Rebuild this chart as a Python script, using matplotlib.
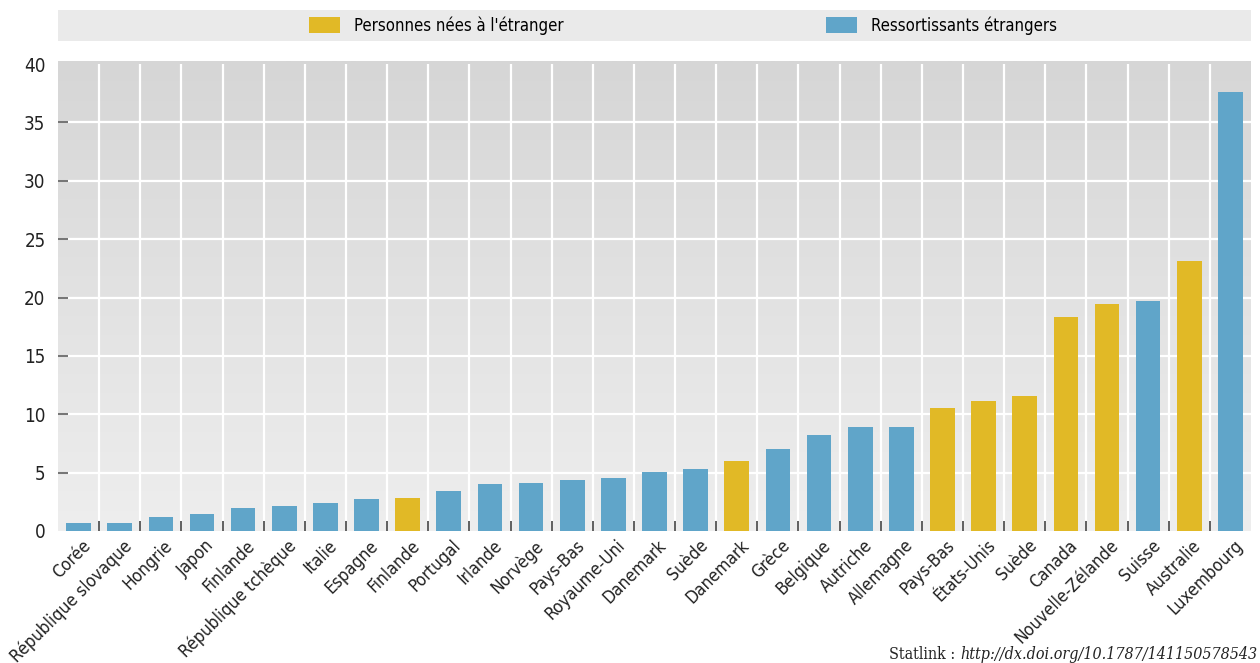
import matplotlib
matplotlib.use("Agg")
import matplotlib.pyplot as plt
import matplotlib.transforms as mtransforms
from matplotlib.patches import Patch
from matplotlib.colors import LinearSegmentedColormap
import numpy as np

plt.rcParams['font.family'] = ['DejaVu Sans']
plt.rcParams['font.stretch'] = 'condensed'

categories = ["Corée", "République slovaque", "Hongrie", "Japon", "Finlande",
              "République tchèque", "Italie", "Espagne", "Finlande", "Portugal",
              "Irlande", "Norvège", "Pays-Bas", "Royaume-Uni", "Danemark",
              "Suède", "Danemark", "Grèce", "Belgique", "Autriche", "Allemagne",
              "Pays-Bas", "États-Unis", "Suède", "Canada", "Nouvelle-Zélande",
              "Suisse", "Australie", "Luxembourg"]
values = [0.7, 0.7, 1.2, 1.45, 2.0, 2.1, 2.4, 2.75, 2.85, 3.45, 4.05, 4.15,
          4.35, 4.5, 5.05, 5.3, 6.0, 7.05, 8.25, 8.95, 8.95, 10.5, 11.1, 11.6,
          18.35, 19.45, 19.7, 23.15, 37.6]
# F = Personnes nées à l'étranger, N = Ressortissants étrangers
series = ["N", "N", "N", "N", "N", "N", "N", "N", "F", "N", "N", "N", "N", "N",
          "N", "N", "F", "N", "N", "N", "N", "F", "F", "F", "F", "F", "N", "F", "N"]
legend_labels = {"F": "Personnes nées à l'étranger", "N": "Ressortissants étrangers"}
yticks = [0, 5, 10, 15, 20, 25, 30, 35, 40]

colors = {"F": "#E1B926", "N": "#60A5C9"}

W, H = 1260, 663
fig = plt.figure(figsize=(W / 100, H / 100), dpi=100)
ax = fig.add_axes([58 / W, 1 - 531 / H, (1251 - 58) / W, (531 - 61) / H])

n = len(categories)
x = np.arange(n)
ax.set_xlim(-0.5, n - 0.5)
ax.set_ylim(0, 40.26)

cmap = LinearSegmentedColormap.from_list("bg", ["#eeeeee", "#d6d6d6"])
grad = np.linspace(0, 1, 256).reshape(-1, 1)
ax.imshow(grad, cmap=cmap, aspect='auto', extent=[0, 1, 0, 1],
          transform=ax.transAxes, origin='lower', zorder=0)

for yv in yticks[1:-1]:
    ax.axhline(yv, color='white', lw=1.6, zorder=1)
ax.vlines(x[:-1] + 0.5, 0, 40, color='white', lw=1.6, zorder=1)

ax.bar(x, values, width=0.6, color=[colors[s] for s in series], zorder=3)

for sp in ax.spines.values():
    sp.set_visible(False)

fs = 12.5
ax.set_yticks(yticks)
ax.set_yticklabels([str(v) for v in yticks], fontsize=13.5, color='#222222')
ax.tick_params(axis='y', direction='in', length=7, width=1.5, color='#777777', pad=9)
yt = ax.yaxis.get_major_ticks()
yt[0].tick1line.set_visible(False)
yt[-1].tick1line.set_visible(False)

ax.set_xticks(x)
ax.set_xticklabels(categories, rotation=45, ha='right', va='top',
                   rotation_mode='anchor', fontsize=fs, color='#222222')
ax.tick_params(axis='x', which='major', length=0, pad=4)
ax.set_xticks(x[:-1] + 0.5, minor=True)
ax.tick_params(axis='x', which='minor', direction='in', length=7, width=1.2,
               color='#444444')
offset = mtransforms.ScaledTranslation(3 / 100, 0, fig.dpi_scale_trans)
for lbl in ax.get_xticklabels():
    lbl.set_transform(lbl.get_transform() + offset)

lax = fig.add_axes([58 / W, 1 - 41 / H, (1251 - 58) / W, 31 / H])
lax.set_facecolor('#eaeaea')
lax.set_xticks([])
lax.set_yticks([])
for sp in lax.spines.values():
    sp.set_visible(False)

lfs = 12
handles = [Patch(facecolor=colors[k], label=legend_labels[k]) for k in ["F", "N"]]
px = lfs * 100 / 72
fig.legend(handles=handles, loc='center', bbox_to_anchor=(683 / W, 1 - 25.5 / H),
           ncol=2, frameon=False, fontsize=lfs, handlelength=31 / px,
           handleheight=17 / px, handletextpad=14 / px, columnspacing=262 / px,
           borderpad=0, borderaxespad=0)

t_url = fig.text(1257 / W, 1 - 659 / H, "http://dx.doi.org/10.1787/141150578543",
                 fontsize=11.5, family='DejaVu Serif', style='italic',
                 stretch='condensed', color='#222222', ha='right', va='baseline')
ax.annotate("Statlink : ", xy=(0, 0), xycoords=t_url, fontsize=11.5,
            family='DejaVu Serif', stretch='condensed', color='#222222',
            ha='right', va='bottom', annotation_clip=False)

fig.savefig("out.png", dpi=100)
